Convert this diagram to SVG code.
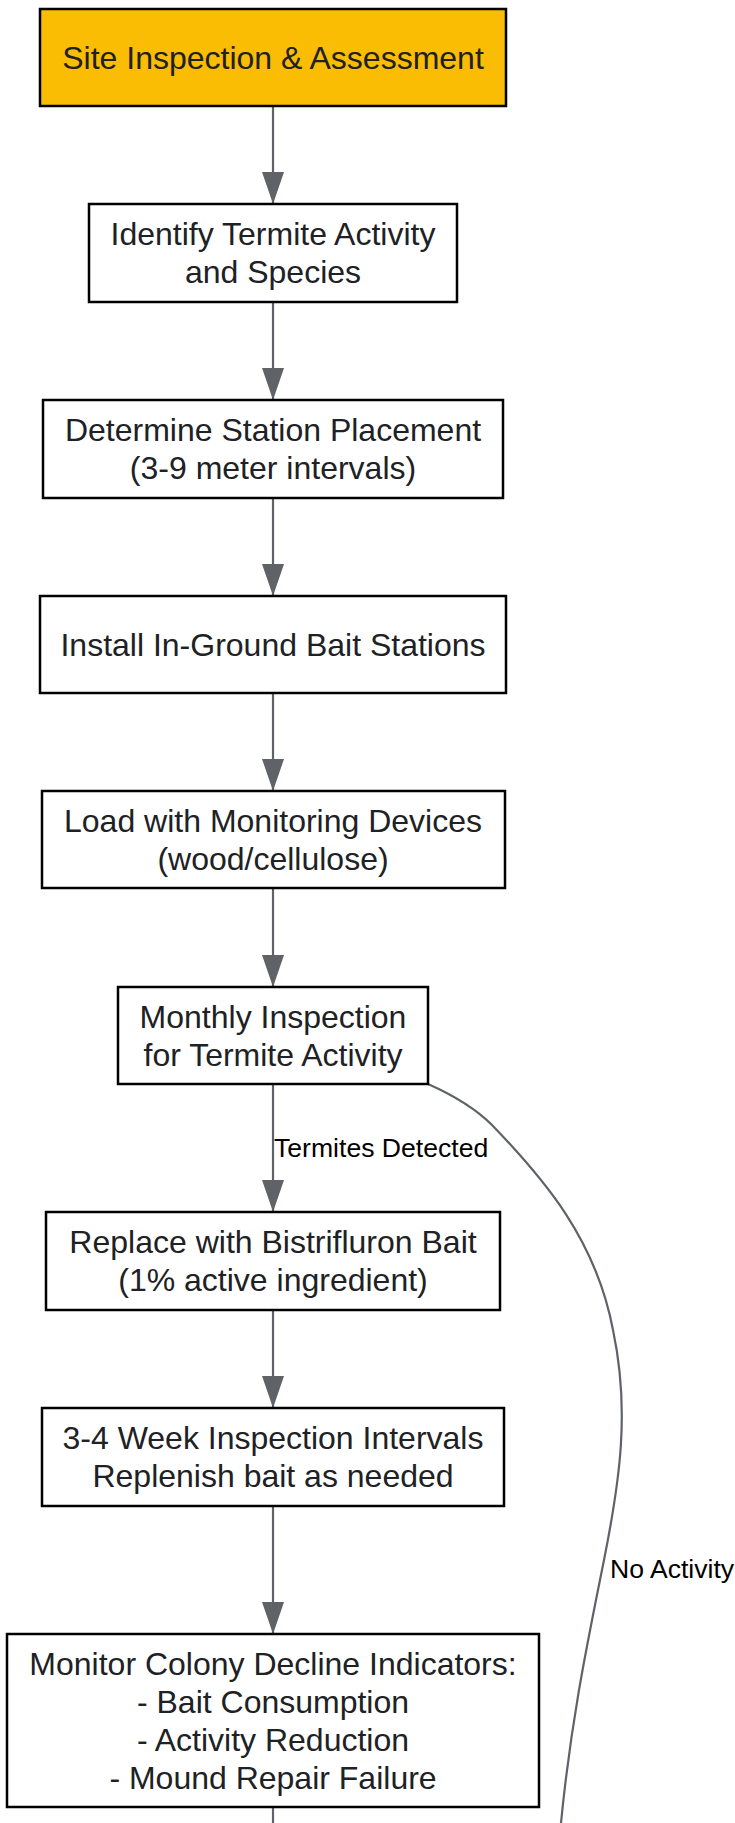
<svg xmlns="http://www.w3.org/2000/svg" width="735" height="1823" viewBox="0 0 735 1823">
<defs>
<style>
.node rect{fill:#ffffff;stroke:#000000;stroke-width:2.5}
.node.start rect{fill:#fbbc04}
.node text{font-family:"Liberation Sans",Arial,sans-serif;font-size:32px;fill:#202124;text-anchor:middle}
.edge{fill:none;stroke:#5f6368;stroke-width:2.2}
.elabel{font-family:"Liberation Sans",Arial,sans-serif;font-size:26.6px;fill:#000000}
</style>
<marker id="arrow" viewBox="0 0 32 22" markerWidth="32" markerHeight="22" refX="32" refY="11" orient="auto" markerUnits="userSpaceOnUse">
<path d="M0,0 L32,11 L0,22 z" fill="#5f6368"/>
</marker>
</defs>
<rect width="735" height="1823" fill="#ffffff"/>
<g id="connectors">
<line class="edge" x1="273" y1="106" x2="273" y2="204" marker-end="url(#arrow)"/>
<line class="edge" x1="273" y1="302" x2="273" y2="400" marker-end="url(#arrow)"/>
<line class="edge" x1="273" y1="498" x2="273" y2="596" marker-end="url(#arrow)"/>
<line class="edge" x1="273" y1="693" x2="273" y2="791" marker-end="url(#arrow)"/>
<line class="edge" x1="273" y1="888" x2="273" y2="987" marker-end="url(#arrow)"/>
<line class="edge" x1="273" y1="1084" x2="273" y2="1212" marker-end="url(#arrow)"/>
<text class="elabel" x="274" y="1157">Termites Detected</text>
<line class="edge" x1="273" y1="1310" x2="273" y2="1408" marker-end="url(#arrow)"/>
<line class="edge" x1="273" y1="1506" x2="273" y2="1634" marker-end="url(#arrow)"/>
<line class="edge" x1="273" y1="1807" x2="273" y2="1823"/>
<path class="edge" d="M428,1084 C455,1096 475,1108 492,1125 C545,1180 596,1240 613,1330 C630,1410 620,1480 604,1560 C588,1640 571,1720 561,1823"/>
<text class="elabel" x="610" y="1578">No Activity</text>
</g>
<g id="node1" class="node start">
<rect x="40" y="9" width="466" height="97"/>
<text x="273" y="68.5">Site Inspection &amp; Assessment</text>
</g>
<g id="node2" class="node">
<rect x="89" y="204" width="368" height="98"/>
<text x="273" y="245">Identify Termite Activity</text>
<text x="273" y="283">and Species</text>
</g>
<g id="node3" class="node">
<rect x="43" y="400" width="460" height="98"/>
<text x="273" y="441">Determine Station Placement</text>
<text x="273" y="479">(3-9 meter intervals)</text>
</g>
<g id="node4" class="node">
<rect x="40" y="596" width="466" height="97"/>
<text x="273" y="655.5">Install In-Ground Bait Stations</text>
</g>
<g id="node5" class="node">
<rect x="42" y="791" width="463" height="97"/>
<text x="273" y="831.5">Load with Monitoring Devices</text>
<text x="273" y="869.5">(wood/cellulose)</text>
</g>
<g id="node6" class="node">
<rect x="118" y="987" width="310" height="97"/>
<text x="273" y="1027.5">Monthly Inspection</text>
<text x="273" y="1065.5">for Termite Activity</text>
</g>
<g id="node7" class="node">
<rect x="46" y="1212" width="454" height="98"/>
<text x="273" y="1253">Replace with Bistrifluron Bait</text>
<text x="273" y="1291">(1% active ingredient)</text>
</g>
<g id="node8" class="node">
<rect x="42" y="1408" width="462" height="98"/>
<text x="273" y="1449">3-4 Week Inspection Intervals</text>
<text x="273" y="1487">Replenish bait as needed</text>
</g>
<g id="node9" class="node">
<rect x="7" y="1634" width="532" height="173"/>
<text x="273" y="1674.5">Monitor Colony Decline Indicators:</text>
<text x="273" y="1712.5">- Bait Consumption</text>
<text x="273" y="1750.5">- Activity Reduction</text>
<text x="273" y="1788.5">- Mound Repair Failure</text>
</g>
</svg>
